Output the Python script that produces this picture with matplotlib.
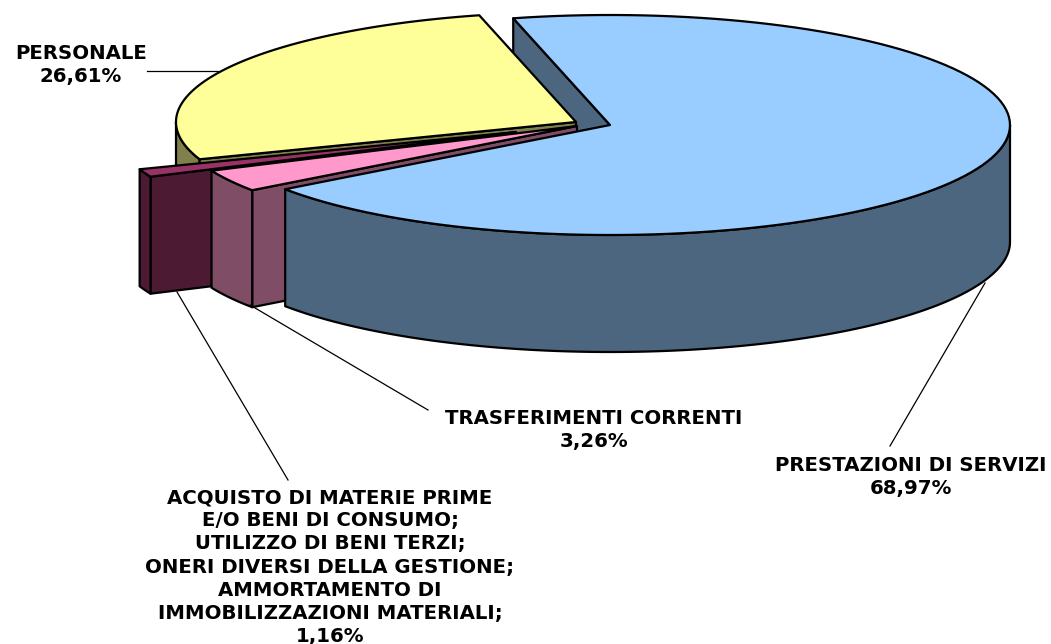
#!/usr/bin/python

import numpy as np
import matplotlib
matplotlib.use('Agg')
import matplotlib.pyplot as plt
from matplotlib.patches import Polygon

# data, clockwise from the start angle
names = ['PRESTAZIONI DI SERVIZI', 'TRASFERIMENTI CORRENTI',
         'ACQUISTO DI MATERIE PRIME\nE/O BENI DI CONSUMO;\nUTILIZZO DI BENI TERZI;\n'
         'ONERI DIVERSI DELLA GESTIONE;\nAMMORTAMENTO DI\nIMMOBILIZZAZIONI MATERIALI;',
         'PERSONALE']
values = [68.97, 3.26, 1.16, 26.61]
labels = ['68,97%', '3,26%', '1,16%', '26,61%']

top_colors = ['#99CCFF', '#FF99CC', '#993366', '#FFFF99']
wall_colors = ['#4D6680', '#804D66', '#4D1A33', '#80804D']

# pie geometry, in pixels
rx = 400 ; ry = 110 ; depth = 117
start = 104.0
centers = [(610, 125), (577, 126), (516, 132), (576, 122)]

# label placement
label_xy = [(911, 477), (594, 430), (330, 567), (81, 65)]
leaders = [((985, 283), (890, 446)), ((250, 305), (428, 410)),
           ((177, 292), (288, 480)), ((147, 71), (218, 71))]

#program
def arc(c, a1, a2, n=120):
    t = np.radians(np.linspace(a1, a2, n))
    return np.column_stack((c[0] + rx*np.cos(t), c[1] - ry*np.sin(t)))

def shape(pts, color):
    ax.add_patch(Polygon(pts, closed=True, facecolor=color, edgecolor='black',
                         linewidth=1.6, joinstyle='round'))

def top(i):
    shape(np.vstack(([centers[i]], arc(centers[i], ang[i], ang[i+1]))), top_colors[i])

def outer_wall(i, a1, a2):
    p = arc(centers[i], a1, a2)
    shape(np.vstack((p, p[::-1] + [0, depth])), wall_colors[i])

def cut_wall(i, a):
    c = np.array(centers[i], dtype=float)
    p = arc(centers[i], a, a, 1)[0]
    shape([c, p, p + [0, depth], c + [0, depth]], wall_colors[i])

ang = start - np.concatenate(([0], np.cumsum(values))) * 3.6

fig = plt.figure(figsize=(10.51, 6.44), dpi=100)
ax = fig.add_axes([0, 0, 1, 1])
ax.set_xlim(0, 1051)
ax.set_ylim(644, 0)
ax.axis('off')

# back to front
cut_wall(0, ang[0])
outer_wall(3, ang[3], -180)
cut_wall(3, ang[3])
top(3)
cut_wall(2, ang[2])
outer_wall(2, ang[2], ang[3])
top(2)
cut_wall(1, ang[1])
outer_wall(1, ang[1], ang[2])
top(1)
outer_wall(0, 0, ang[1])
top(0)

for (p, q) in leaders:
    ax.plot([p[0], q[0]], [p[1], q[1]], color='black', linewidth=0.9)

for i in range(len(names)):
    ax.text(label_xy[i][0], label_xy[i][1], names[i] + '\n' + labels[i],
            ha='center', va='center', fontsize=14.2, fontweight='bold',
            family='DejaVu Sans', linespacing=1.27, color='black')

plt.savefig('out.png', dpi=100)
